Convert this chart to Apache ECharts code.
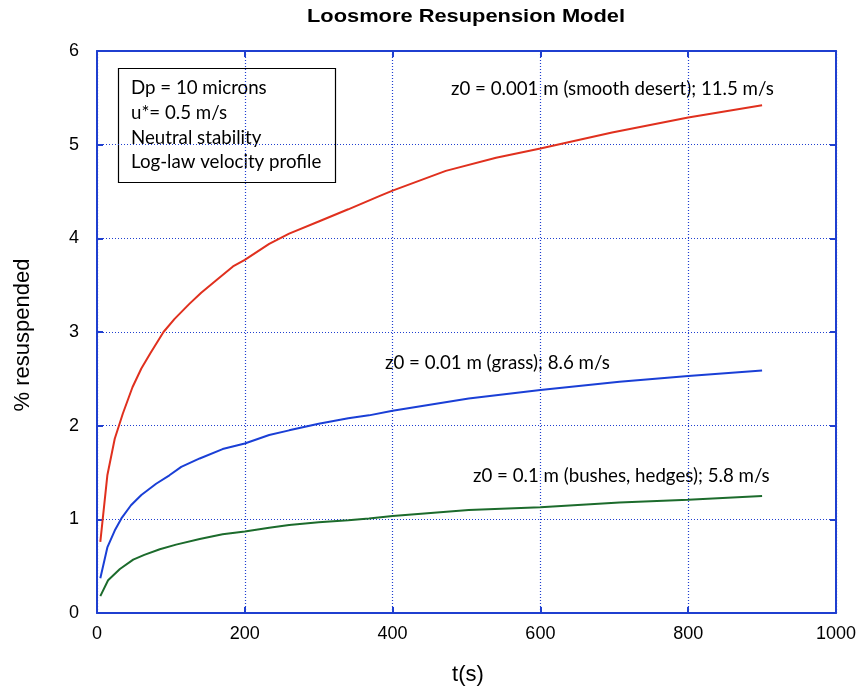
<!DOCTYPE html>
<html>
<head>
<meta charset="utf-8">
<script src="https://cdn.jsdelivr.net/npm/echarts@6/dist/echarts.min.js"></script>
<style>
  html, body { margin: 0; padding: 0; background: #fff; }
  #chart { width: 859px; height: 689px; }
</style>
</head>
<body>
<div id="chart"></div>
<script>
// time samples (s) and % resuspended
var tDesert = [4.5, 14, 24, 35, 48, 60, 72, 90, 105, 125, 141, 161, 184, 200, 233, 260, 300, 340, 382, 400, 472, 540, 600, 697, 800, 900];
var desert  = [0.76, 1.47, 1.86, 2.13, 2.41, 2.61, 2.77, 3.0, 3.14, 3.30, 3.42, 3.55, 3.70, 3.77, 3.94, 4.05, 4.18, 4.31, 4.45, 4.51, 4.72, 4.86, 4.96, 5.13, 5.29, 5.42];

var tGrass = [4.5, 14, 24, 33, 46, 60, 80, 98, 114, 139, 170, 200, 233, 260, 300, 340, 368, 400, 503, 600, 707, 800, 900];
var grass  = [0.37, 0.70, 0.88, 1.01, 1.15, 1.26, 1.38, 1.47, 1.56, 1.65, 1.75, 1.81, 1.90, 1.95, 2.02, 2.08, 2.11, 2.16, 2.29, 2.38, 2.47, 2.53, 2.59];

var tBushes = [4.5, 15, 31, 49, 64, 85, 107, 139, 170, 200, 233, 260, 300, 340, 368, 400, 503, 600, 707, 800, 900];
var bushes  = [0.18, 0.35, 0.47, 0.57, 0.62, 0.68, 0.73, 0.79, 0.84, 0.87, 0.91, 0.94, 0.97, 0.99, 1.01, 1.035, 1.10, 1.13, 1.18, 1.21, 1.25];

var xTicks = [0, 200, 400, 600, 800, 1000];
var yTicks = [0, 1, 2, 3, 4, 5, 6];

var boxLines = ["Dp = 10 microns", "u*= 0.5 m/s", "Neutral stability", "Log-law velocity profile"];

var pairUp = function (xs, ys) {
    var out = [];
    for (var i = 0; i < xs.length; i++) {
        out.push([xs[i], ys[i]]);
    }
    return out;
};

var axisBlue = '#1f3fd0';
var textFont = 'Lato';

var chart = echarts.init(document.getElementById('chart'));

var sideAxis = function (pos, showLabel, ticks, margin) {
    return {
        type: 'value',
        position: pos,
        min: ticks[0],
        max: ticks[ticks.length - 1],
        interval: ticks[1] - ticks[0],
        axisLine: { show: true, onZero: false, lineStyle: { color: axisBlue, width: 2 } },
        axisTick: { show: true, inside: true, length: 6, lineStyle: { color: axisBlue, width: 2 } },
        axisLabel: {
            show: showLabel,
            color: '#000',
            fontSize: 18,
            fontFamily: 'Liberation Sans',
            margin: margin || 12,
            formatter: function (v) { return String(v); }
        },
        splitLine: showLabel ? {
            show: true,
            lineStyle: { color: axisBlue, type: [1, 2], width: 1.2 }
        } : { show: false }
    };
};

var option = {
    backgroundColor: '#fff',
    animation: false,
    grid: { left: 97, right: 22, top: 51, bottom: 76 },
    xAxis: [sideAxis('bottom', true, xTicks, 12), sideAxis('top', false, xTicks)],
    yAxis: [sideAxis('left', true, yTicks, 18), sideAxis('right', false, yTicks)],
    series: [
        {
            name: 'desert', type: 'line', showSymbol: false,
            data: pairUp(tDesert, desert),
            lineStyle: { color: '#e0301e', width: 2 }
        },
        {
            name: 'grass', type: 'line', showSymbol: false,
            data: pairUp(tGrass, grass),
            lineStyle: { color: '#1a3fd6', width: 2 }
        },
        {
            name: 'bushes', type: 'line', showSymbol: false,
            data: pairUp(tBushes, bushes),
            lineStyle: { color: '#1c6b2c', width: 2 }
        }
    ],
    graphic: [
        {
            // title
            type: 'text', x: 466, y: 17, scaleX: 1.15,
            style: { text: 'Loosmore Resupension Model', font: 'bold 19px Liberation Sans', fill: '#000', align: 'center', verticalAlign: 'middle' }
        },
        {
            type: 'text', x: 23, y: 335,
            rotation: Math.PI / 2,
            style: { text: '% resuspended', font: '22px Liberation Sans', fill: '#000', align: 'center', verticalAlign: 'middle' }
        },
        {
            type: 'text', x: 468, y: 675,
            style: { text: 't(s)', font: '22px Liberation Sans', fill: '#000', align: 'center', verticalAlign: 'middle' }
        },
        {
            type: 'rect',
            shape: { x: 118.5, y: 68.5, width: 217, height: 114 },
            style: { fill: '#fff', stroke: '#000', lineWidth: 1.2 }
        },
        {
            type: 'text', x: 131, y: 76,
            style: {
                text: boxLines.join('\n'),
                font: '18.7px ' + textFont,
                lineHeight: 24.7,
                fill: '#000'
            }
        },
        {
            type: 'text', x: 451, y: 89,
            style: { text: 'z0 = 0.001 m (smooth desert); 11.5 m/s', font: '18.7px ' + textFont, fill: '#000', verticalAlign: 'middle' }
        },
        {
            type: 'text', x: 385, y: 363,
            style: { text: 'z0 = 0.01 m (grass); 8.6 m/s', font: '18.7px ' + textFont, fill: '#000', verticalAlign: 'middle' }
        },
        {
            type: 'text', x: 473, y: 476,
            style: { text: 'z0 = 0.1 m (bushes, hedges); 5.8 m/s', font: '18.7px ' + textFont, fill: '#000', verticalAlign: 'middle' }
        }
    ]
};

chart.setOption(option);
</script>
</body>
</html>
